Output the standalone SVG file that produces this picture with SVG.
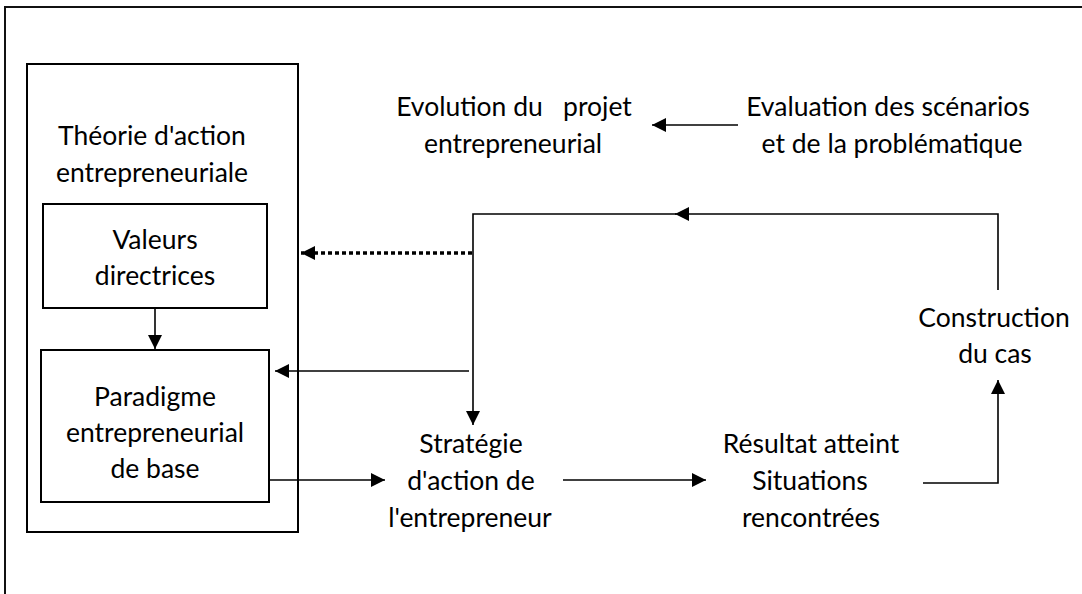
<svg xmlns="http://www.w3.org/2000/svg" width="1082" height="594" viewBox="0 0 1082 594">
<defs>
<marker id="ah" markerUnits="userSpaceOnUse" markerWidth="15" markerHeight="15" refX="14" refY="7" orient="auto">
<path d="M0,0 L14,7 L0,14 z" fill="#000"/>
</marker>
<style>
.t{font-family:Lato,"Open Sans",sans-serif;font-size:26.5px;fill:#000;text-anchor:middle}
.box{fill:none;stroke:#000;stroke-width:2}
.ln{fill:none;stroke:#000;stroke-width:1.6}
.dot{fill:none;stroke:#000;stroke-width:3.5;stroke-dasharray:4 3}
</style>
</defs>
<rect width="1082" height="594" fill="#fff"/>
<path d="M4 7 H1082 M5 6 V594" fill="none" stroke="#111" stroke-width="2"/>

<g id="theorie">
<rect class="box" x="27" y="64" width="271" height="468"/>
<text class="t" x="152" y="145">Théorie d'action</text>
<text class="t" x="152" y="182">entrepreneuriale</text>
</g>
<g id="valeurs">
<rect class="box" x="43" y="204" width="224" height="104"/>
<text class="t" x="155" y="249">Valeurs</text>
<text class="t" x="155" y="285">directrices</text>
</g>
<g id="paradigme">
<rect class="box" x="41" y="350" width="228" height="152"/>
<text class="t" x="155" y="406">Paradigme</text>
<text class="t" x="155" y="442">entrepreneurial</text>
<text class="t" x="155" y="478">de base</text>
</g>
<g id="evolution">
<text class="t" x="514" y="116" xml:space="preserve">Evolution du   projet</text>
<text class="t" x="513" y="153">entrepreneurial</text>
</g>
<g id="evaluation">
<text class="t" x="888" y="116">Evaluation des scénarios</text>
<text class="t" x="892" y="153">et de la problématique</text>
</g>
<g id="construction">
<text class="t" x="994" y="327">Construction</text>
<text class="t" x="995" y="363">du cas</text>
</g>
<g id="strategie">
<text class="t" x="471" y="453">Stratégie</text>
<text class="t" x="471" y="490">d'action de</text>
<text class="t" x="470" y="527">l'entrepreneur</text>
</g>
<g id="resultat">
<text class="t" x="811" y="453">Résultat atteint</text>
<text class="t" x="810" y="490">Situations</text>
<text class="t" x="811" y="527">rencontrées</text>
</g>

<g id="connectors">
<path class="ln" d="M155 308 V349" marker-end="url(#ah)"/>
<path class="dot" d="M472 253 H301" marker-end="url(#ah)"/>
<path class="ln" d="M998 290 V214 H675" marker-end="url(#ah)"/>
<path class="ln" d="M676 214 H473 V425" marker-end="url(#ah)"/>
<path class="ln" d="M469 371 H275" marker-end="url(#ah)"/>
<path class="ln" d="M269 480 H385" marker-end="url(#ah)"/>
<path class="ln" d="M563 480 H706" marker-end="url(#ah)"/>
<path class="ln" d="M923 483 H998 V380" marker-end="url(#ah)"/>
<path class="ln" d="M738 125 H652" marker-end="url(#ah)"/>
</g>
</svg>
